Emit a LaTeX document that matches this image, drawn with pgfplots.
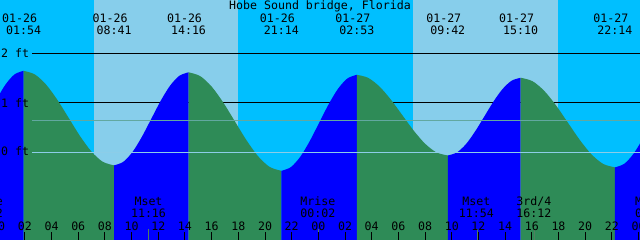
\documentclass[border=0pt]{standalone}
\usepackage{pgfplots}
\pgfplotsset{compat=1.18}
\usepackage{pgfplotstable}
\usepackage{fontspec}
\setmainfont{DejaVu Sans Mono}
\definecolor{night}{HTML}{00BFFF}
\definecolor{day}{HTML}{87CEEB}
\definecolor{flood}{HTML}{0000FF}
\definecolor{ebb}{HTML}{2E8B57}
\definecolor{datum}{HTML}{8CCDE8}
\definecolor{msl}{HTML}{62A8A0}
\definecolor{moonmark}{HTML}{4F7F5F}
\newcommand\tf{\fontsize{11.6bp}{13.9bp}\selectfont}
\tikzset{lbl/.style={font=\tf, inner sep=0pt, anchor=base, text=black}}

\pgfplotstableread{
h v
-1.5375 0.302
-0.850 0.675
-0.1625 1.048
0.525 1.364
1.2125 1.576
1.900 1.650
2.748 1.577
3.596 1.370
4.444 1.060
5.292 0.695
6.139 0.330
6.987 0.020
7.835 -0.187
8.683 -0.260
9.381 -0.188
10.079 0.015
10.777 0.320
11.475 0.680
12.173 1.040
12.871 1.345
13.569 1.548
14.267 1.620
15.138 1.544
16.008 1.329
16.879 1.006
17.750 0.625
18.621 0.244
19.492 -0.079
20.363 -0.294
21.233 -0.370
21.939 -0.296
22.646 -0.086
23.352 0.229
24.058 0.600
24.764 0.971
25.471 1.286
26.177 1.496
26.883 1.570
27.735 1.508
28.587 1.331
29.439 1.067
30.292 0.755
31.144 0.443
31.996 0.179
32.848 0.002
33.700 -0.060
34.383 0.000
35.067 0.170
35.750 0.425
36.434 0.725
37.117 1.025
37.800 1.280
38.484 1.450
39.167 1.510
40.050 1.441
40.933 1.245
41.817 0.951
42.700 0.605
43.583 0.259
44.466 -0.035
45.350 -0.231
46.233 -0.300
46.933 -0.228
47.633 -0.022
48.333 0.286
49.033 0.650
}\tide

\begin{document}
\begin{tikzpicture}
\begin{axis}[
  scale only axis, width=640bp, height=240bp,
  xmin=0.1349, xmax=48.111, ymin=-1.7677, ymax=3.0808,
  axis line style={draw=none},
  ytick=\empty,
  xtick={2,4,...,48},
  xticklabels={},
  tick align=inside, xtick pos=left,
  major tick length=8.3bp,
  tick style={black, line width=1bp},
  axis on top,
  seg/.style={draw=none, smooth, restrict x to domain=#1},
]
% day / night bands
\addplot[draw=none, fill=night] coordinates {(-2,-2) (-2,4) (7.18,4) (7.18,-2)} --cycle;
\addplot[draw=none, fill=day] coordinates {(7.18,-2) (7.18,4) (17.98,4) (17.98,-2)} --cycle;
\addplot[draw=none, fill=night] coordinates {(17.98,-2) (17.98,4) (31.12,4) (31.12,-2)} --cycle;
\addplot[draw=none, fill=day] coordinates {(31.12,-2) (31.12,4) (41.97,4) (41.97,-2)} --cycle;
\addplot[draw=none, fill=night] coordinates {(41.97,-2) (41.97,4) (50,4) (50,-2)} --cycle;
% 2 ft and 1 ft lines (behind the water)
\addplot[black, line width=1bp] coordinates {(2.53,2) (50,2)};
\addplot[black, line width=1bp] coordinates {(2.53,1) (50,1)};
% water: rising (flood, blue) and falling (ebb, green) segments
\addplot[seg={-2:1.901}, fill=flood] table[x=h, y=v] {\tide} -- (axis cs:1.900,-2) -- (axis cs:-1.5375,-2) -- cycle;
\addplot[seg={1.899:8.684}, fill=ebb] table[x=h, y=v] {\tide} -- (axis cs:8.683,-2) -- (axis cs:1.900,-2) -- cycle;
\addplot[seg={8.682:14.268}, fill=flood] table[x=h, y=v] {\tide} -- (axis cs:14.267,-2) -- (axis cs:8.683,-2) -- cycle;
\addplot[seg={14.266:21.234}, fill=ebb] table[x=h, y=v] {\tide} -- (axis cs:21.233,-2) -- (axis cs:14.267,-2) -- cycle;
\addplot[seg={21.232:26.884}, fill=flood] table[x=h, y=v] {\tide} -- (axis cs:26.883,-2) -- (axis cs:21.233,-2) -- cycle;
\addplot[seg={26.882:33.701}, fill=ebb] table[x=h, y=v] {\tide} -- (axis cs:33.700,-2) -- (axis cs:26.883,-2) -- cycle;
\addplot[seg={33.699:39.168}, fill=flood] table[x=h, y=v] {\tide} -- (axis cs:39.167,-2) -- (axis cs:33.700,-2) -- cycle;
\addplot[seg={39.166:46.234}, fill=ebb] table[x=h, y=v] {\tide} -- (axis cs:46.233,-2) -- (axis cs:39.167,-2) -- cycle;
\addplot[seg={46.232:50}, fill=flood] table[x=h, y=v] {\tide} -- (axis cs:49.033,-2) -- (axis cs:46.233,-2) -- cycle;
% datum and mean lines
\addplot[datum, line width=1bp] coordinates {(2.53,0) (50,0)};
\addplot[msl, line width=1bp] coordinates {(2.53,0.646) (50,0.646)};
% moon event marks
\addplot[moonmark, line width=1bp] coordinates {(11.267,-1.7677) (11.267,-1.545)};
\addplot[moonmark, line width=1bp] coordinates {(24.033,-1.7677) (24.033,-1.545)};
\addplot[moonmark, line width=1bp] coordinates {(35.9,-1.7677) (35.9,-1.545)};
\addplot[moonmark, line width=1bp] coordinates {(40.2,-1.7677) (40.2,-1.545)};

% title
\node[lbl] at (axis cs:24.12,2.879) {Hobe Sound bridge, Florida};
% tide event labels
\node[lbl] at (axis cs:1.6,2.636) {01-26};   \node[lbl] at (axis cs:1.900,2.384) {01:54};
\node[lbl] at (axis cs:8.383,2.636) {01-26}; \node[lbl] at (axis cs:8.683,2.384) {08:41};
\node[lbl] at (axis cs:13.967,2.636) {01-26};\node[lbl] at (axis cs:14.267,2.384) {14:16};
\node[lbl] at (axis cs:20.933,2.636) {01-26};\node[lbl] at (axis cs:21.233,2.384) {21:14};
\node[lbl] at (axis cs:26.583,2.636) {01-27};\node[lbl] at (axis cs:26.883,2.384) {02:53};
\node[lbl] at (axis cs:33.400,2.636) {01-27};\node[lbl] at (axis cs:33.700,2.384) {09:42};
\node[lbl] at (axis cs:38.867,2.636) {01-27};\node[lbl] at (axis cs:39.167,2.384) {15:10};
\node[lbl] at (axis cs:45.933,2.636) {01-27};\node[lbl] at (axis cs:46.233,2.384) {22:14};
% height labels
\node[lbl, anchor=base west] at (axis cs:0.21,1.929) {2 ft};
\node[lbl, anchor=base west] at (axis cs:0.21,0.919) {1 ft};
\node[lbl, anchor=base west] at (axis cs:0.21,-0.0707) {0 ft};
% moon labels
\node[lbl] at (axis cs:-0.952,-1.0808) {Mrise}; \node[lbl] at (axis cs:-0.952,-1.3232) {23:02};
\node[lbl] at (axis cs:11.267,-1.0808) {Mset};  \node[lbl] at (axis cs:11.267,-1.3232) {11:16};
\node[lbl] at (axis cs:23.96,-1.0808) {Mrise};  \node[lbl] at (axis cs:23.96,-1.3232) {00:02};
\node[lbl] at (axis cs:35.85,-1.0808) {Mset};   \node[lbl] at (axis cs:35.85,-1.3232) {11:54};
\node[lbl] at (axis cs:40.15,-1.0808) {3rd/4};  \node[lbl] at (axis cs:40.15,-1.3232) {16:12};
\node[lbl] at (axis cs:49.05,-1.0808) {Mrise};  \node[lbl] at (axis cs:49.05,-1.3232) {01:02};
% hour labels
\node[lbl] at (axis cs:0,-1.5657) {00};  \node[lbl] at (axis cs:2,-1.5657) {02};
\node[lbl] at (axis cs:4,-1.5657) {04};  \node[lbl] at (axis cs:6,-1.5657) {06};
\node[lbl] at (axis cs:8,-1.5657) {08};  \node[lbl] at (axis cs:10,-1.5657) {10};
\node[lbl] at (axis cs:12,-1.5657) {12}; \node[lbl] at (axis cs:14,-1.5657) {14};
\node[lbl] at (axis cs:16,-1.5657) {16}; \node[lbl] at (axis cs:18,-1.5657) {18};
\node[lbl] at (axis cs:20,-1.5657) {20}; \node[lbl] at (axis cs:22,-1.5657) {22};
\node[lbl] at (axis cs:24,-1.5657) {00}; \node[lbl] at (axis cs:26,-1.5657) {02};
\node[lbl] at (axis cs:28,-1.5657) {04}; \node[lbl] at (axis cs:30,-1.5657) {06};
\node[lbl] at (axis cs:32,-1.5657) {08}; \node[lbl] at (axis cs:34,-1.5657) {10};
\node[lbl] at (axis cs:36,-1.5657) {12}; \node[lbl] at (axis cs:38,-1.5657) {14};
\node[lbl] at (axis cs:40,-1.5657) {16}; \node[lbl] at (axis cs:42,-1.5657) {18};
\node[lbl] at (axis cs:44,-1.5657) {20}; \node[lbl] at (axis cs:46,-1.5657) {22};
\node[lbl] at (axis cs:48,-1.5657) {00};
\end{axis}
\pgfresetboundingbox
\path[use as bounding box] (current axis.south west) rectangle (current axis.north east);
\end{tikzpicture}
\end{document}
